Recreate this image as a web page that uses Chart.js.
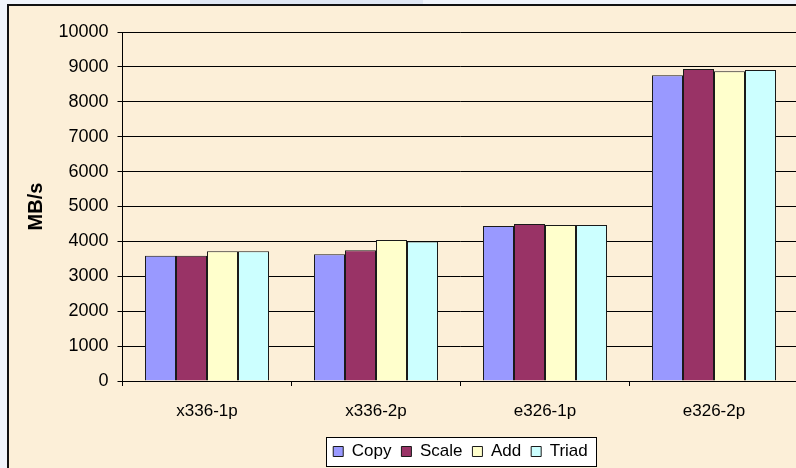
<!DOCTYPE html>
<html>
<head>
<meta charset="utf-8">
<script src="https://cdn.jsdelivr.net/npm/chart.js@4"></script>
<style>
  html, body { margin: 0; padding: 0; overflow: hidden; background: #f0f4fb; }
  canvas { display: block; }
</style>
</head>
<body>
<canvas id="c" width="799" height="468" style="width:799px;height:468px"></canvas>
<script>
const categories = ['x336-1p', 'x336-2p', 'e326-1p', 'e326-2p'];
const copyValues  = [3590, 3630, 4440, 8760];
const scaleValues = [3590, 3750, 4500, 8940];
const addValues   = [3720, 4040, 4470, 8875];
const triadValues = [3720, 4000, 4470, 8910];
const seriesNames = ['Copy', 'Scale', 'Add', 'Triad'];
const yMin = 0, yMax = 10000, yStep = 1000;
const yTitle = 'MB/s';

const FONT = "'Liberation Sans', Arial, sans-serif";

function legendFrame(chart) {
  const lg = chart.legend;
  if (!lg || !lg.legendHitBoxes || !lg.legendHitBoxes.length) return null;
  const hb = lg.legendHitBoxes;
  const first = hb[0], last = hb[hb.length - 1];
  const left = Math.round(first.left - 7);
  const right = Math.round(last.left + last.width + 8);
  const top = Math.round(first.top - 6);
  const bottom = Math.round(first.top + first.height + 6);
  return { left, right, top, bottom };
}

const bgPlugin = {
  id: 'bg',
  beforeDraw(chart) {
    const ctx = chart.ctx;
    const W = chart.width, H = chart.height;
    ctx.save();
    ctx.fillStyle = '#f0f4fb';
    ctx.fillRect(0, 0, W, H);
    ctx.fillStyle = '#dfe6f3';
    ctx.fillRect(190, 0, 233, 4);
    ctx.fillStyle = '#fcefd8';
    ctx.fillRect(8, 5, W - 8, H - 5);
    ctx.fillStyle = '#111';
    ctx.fillRect(7, 4, W - 7, 2);
    ctx.fillRect(7, 4, 2, H - 4);
    const f = legendFrame(chart);
    if (f) {
      ctx.fillStyle = '#ffffff';
      ctx.fillRect(f.left, f.top, f.right - f.left, f.bottom - f.top);
    }
    ctx.restore();
  },
  afterDraw(chart) {
    const f = legendFrame(chart);
    if (!f) return;
    const ctx = chart.ctx;
    ctx.save();
    ctx.strokeStyle = '#000';
    ctx.lineWidth = 1;
    ctx.strokeRect(f.left + 0.5, f.top + 0.5, f.right - f.left, f.bottom - f.top);
    ctx.restore();
  }
};

const colors = ['#9999ff', '#993366', '#ffffcc', '#ccffff'];
const values = [copyValues, scaleValues, addValues, triadValues];

new Chart(document.getElementById('c'), {
  type: 'bar',
  data: {
    labels: categories,
    datasets: seriesNames.map((name, i) => ({
      label: name,
      data: values[i],
      backgroundColor: colors[i],
      borderColor: '#1a1a1a',
      borderWidth: 1,
      inflateAmount: 0,
      categoryPercentage: 124 / 169,
      barPercentage: 1.0
    }))
  },
  options: {
    responsive: false,
    animation: false,
    devicePixelRatio: 1,
    layout: { padding: { left: 0, right: 0.5, top: 32, bottom: -2 } },
    plugins: {
      tooltip: { enabled: false },
      legend: {
        position: 'bottom',
        fullSize: false,
        labels: {
          boxWidth: 10,
          boxHeight: 10,
          padding: 10,
          color: '#000',
          font: { family: FONT, size: 17 }
        }
      }
    },
    scales: {
      x: {
        offset: true,
        grid: { display: true, drawOnChartArea: false, drawTicks: true, tickLength: 5, color: '#000', offset: true },
        border: { display: true, color: '#000', width: 1 },
        ticks: { color: '#000', padding: 15, font: { family: FONT, size: 17 }, maxRotation: 0 },
        afterFit(scale) { scale.height = 52; }
      },
      y: {
        min: yMin,
        max: yMax,
        grid: { color: '#000', tickLength: 5, drawTicks: true },
        border: { display: true, color: '#000', width: 1 },
        ticks: {
          stepSize: yStep,
          color: '#000',
          padding: 9,
          font: { family: FONT, size: 18 },
          callback: v => String(v)
        },
        title: {
          display: true,
          text: yTitle,
          color: '#000',
          font: { family: FONT, size: 20, weight: 'bold' },
          padding: { top: 24, bottom: 0 }
        },
        afterFit(scale) { scale.width = 122.5; }
      }
    }
  },
  plugins: [bgPlugin]
});
</script>
</body>
</html>
